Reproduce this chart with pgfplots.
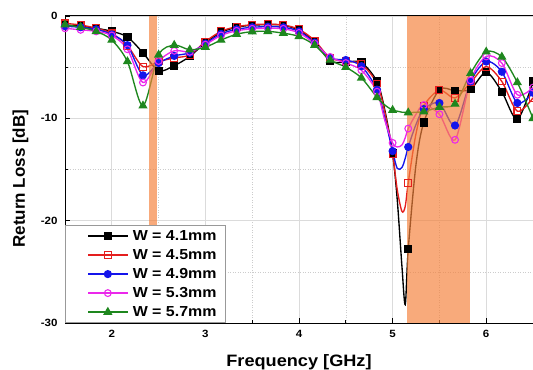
\documentclass[border=0pt]{standalone}
\usepackage{fontspec}
\setmainfont{Liberation Sans}[FakeStretch=1.1]
\newfontfamily\yfont{Liberation Sans}
\usepackage{pgfplots}
\usepackage{pgfplotstable}
\pgfplotsset{compat=1.18}

\definecolor{cred}{RGB}{228,30,30}
\definecolor{cblue}{RGB}{20,20,235}
\definecolor{cpink}{RGB}{235,40,235}
\definecolor{cgreen}{RGB}{30,135,30}
\definecolor{bandc}{RGB}{244,130,60}

\pgfplotstableread{
f      a      b      c      d      e
1.5    -0.9   -0.72  -1.0   -1.2   -0.85
1.667  -1.0   -0.88  -1.1   -1.35  -1.1
1.833  -1.2   -1.2   -1.3   -1.5   -1.5
2.0    -1.5   -1.7   -1.8   -1.9   -2.35
2.167  -2.05  -2.9   -2.85  -3.25  -4.45
2.333  -3.6   -4.95  -5.8   -6.5   -8.77
2.5    -5.35  -4.45  -4.6   -4.4   -3.8
2.667  -4.85  -4.1   -3.9   -3.4   -2.85
2.833  -3.95  -3.8   -3.6   -3.5   -3.3
3.0    -2.6   -2.5   -2.7   -2.8   -3.05
3.167  -1.6   -1.5   -1.75  -1.9   -2.35
3.333  -1.1   -1.05  -1.3   -1.45  -1.78
3.5    -0.9   -0.85  -1.1   -1.25  -1.53
3.667  -0.85  -0.8   -1.05  -1.2   -1.5
3.833  -0.9   -0.88  -1.1   -1.25  -1.68
4.0    -1.4   -1.3   -1.5   -1.65  -2.0
4.167  -2.5   -2.4   -2.6   -2.7   -2.85
4.333  -4.4   -4.1   -4.1   -4.0   -4.3
4.5    -4.5   -4.4   -4.3   -4.6   -5.0
4.667  -4.55  -4.7   -4.9   -5.3   -6.05
4.833  -6.4   -6.6   -7.2   -7.4   -7.95
4.917  -9.2   -9.4   -10.0  -10.2  -8.7
5.0    -13.4  -13.5  -13.2  -12.4  -9.2
5.05   -18.0  -17.0  -14.9  -12.8  -9.3
5.1    -24.5  -19.1  -14.8  -12.6  -9.4
5.135  -28.2  -18.6  -13.9  -11.9  -9.42
5.167  -22.8  -16.3  -12.8  -11.0  -9.45
5.25   -14.5  -11.5  -10.6  -9.6   -9.4
5.333  -10.4  -8.8   -9.1   -8.7   -9.35
5.5    -7.2   -7.25  -8.5   -9.6   -8.9
5.667  -7.3   -8.0   -10.7  -12.1  -8.6
5.833  -7.15  -6.5   -6.4   -6.3   -5.6
6.0    -5.5   -4.95  -4.45  -3.95  -3.5
6.167  -7.4   -6.4   -5.45  -4.6   -4.0
6.333  -10.1  -9.3   -8.5   -7.7   -6.5
6.5    -6.4   -8.0   -7.5   -7.0   -10.0
}\datatable

\begin{document}
\begin{tikzpicture}
\begin{axis}[
  name=ax,
  scale only axis,
  width=468pt, height=307pt,
  xmin=1.5, xmax=6.5, ymin=-30, ymax=0,
  axis y line*=left, axis x line*=box,
  xtick pos=left,
  axis line style={black, line width=1pt},
  xtick={2,3,4,5,6}, xticklabels={2,3,4,5,6},
  minor xtick={2.5,3.5,4.5,5.5},
  ytick={-30,-20,-10,0}, yticklabels={-30,-20,-10,0},
  minor ytick={-25,-15,-5},
  tick align=inside,
  major tick length=5pt, minor tick length=3pt,
  tick style={black, line width=0.8pt},
  grid=both,
  major grid style={gray!28, line width=0.7pt},
  minor grid style={gray!40, line width=0.6pt, dash pattern=on 1pt off 1.5pt},
  ticklabel style={font=\fontsize{10.5}{12}\selectfont\bfseries},
  xticklabel style={yshift=-4pt},
  yticklabel style={xshift=-4pt},
  xlabel={Frequency [GHz]},
  ylabel={Return Loss [dB]},
  xlabel style={at={(axis description cs:0.5,0)}, anchor=base, yshift=-43pt,
                font=\fontsize{16.5}{18}\selectfont\bfseries},
  ylabel style={at={(axis description cs:-0.0855,0.47)}, anchor=base, rotate=0,
                font=\yfont\fontsize{17}{19}\selectfont\bfseries},
  legend cell align=left,
  legend style={at={(0,0)}, anchor=south west, draw=gray!80, line width=0.8pt,
                fill=white, inner xsep=4.5pt, inner ysep=1pt, row sep=0pt,
                font=\fontsize{14.5}{16}\selectfont\bfseries,
                nodes={inner xsep=4.5pt, inner ysep=0pt, text height=14pt, text depth=5pt}},
  legend image code/.code={
    \path (0pt,0pt);
    \draw[#1, mark indices={2}] plot coordinates {(17.5pt,0pt) (37.25pt,0pt) (57pt,0pt)};
  },
  every axis plot/.append style={line width=1.35pt, smooth},
]
\addplot[black, mark=square*, mark size=3.4pt,
  mark indices={1,2,3,4,5,6,7,8,9,10,11,12,13,14,15,16,17,18,19,20,21,23,27,29,30,31,32,33,34,35,36}]
  table[x=f, y=a] {\datatable};
\addlegendentry{W = 4.1mm}
\addplot[cred, mark=square, mark size=3.4pt, mark options={fill=white, line width=1.1pt},
  mark indices={1,2,3,4,5,6,7,8,9,10,11,12,13,14,15,16,17,18,19,20,21,23,27,29,30,31,32,33,34,35,36}]
  table[x=f, y=b] {\datatable};
\addlegendentry{W = 4.5mm}
\addplot[cblue, mark=*, mark size=3.4pt,
  mark indices={1,2,3,4,5,6,7,8,9,10,11,12,13,14,15,16,17,18,19,20,21,23,27,29,30,31,32,33,34,35,36}]
  table[x=f, y=c] {\datatable};
\addlegendentry{W = 4.9mm}
\addplot[cpink, mark=o, mark size=3.4pt, mark options={fill=white, line width=1.1pt},
  mark indices={1,2,3,4,5,6,7,8,9,10,11,12,13,14,15,16,17,18,19,20,21,23,27,29,30,31,32,33,34,35,36}]
  table[x=f, y=d] {\datatable};
\addlegendentry{W = 5.3mm}
\addplot[cgreen, mark=triangle*, mark size=4pt,
  mark indices={1,2,3,4,5,6,7,8,9,10,11,12,13,14,15,16,17,18,19,20,21,23,27,29,30,31,32,33,34,35,36}]
  table[x=f, y=e] {\datatable};
\addlegendentry{W = 5.7mm}
\addplot[forget plot, draw=none, fill=bandc, fill opacity=0.68, sharp plot, mark=none]
  coordinates {(2.4,-30) (2.4,0) (2.484,0) (2.484,-30)} -- cycle;
\addplot[forget plot, draw=none, fill=bandc, fill opacity=0.68, sharp plot, mark=none]
  coordinates {(5.15,-30) (5.15,0) (5.825,0) (5.825,-30)} -- cycle;
\end{axis}
\pgfresetboundingbox
\path ([xshift=-65pt,yshift=-46pt]ax.south west) rectangle ([yshift=16pt]ax.north east);
\end{tikzpicture}
\end{document}
